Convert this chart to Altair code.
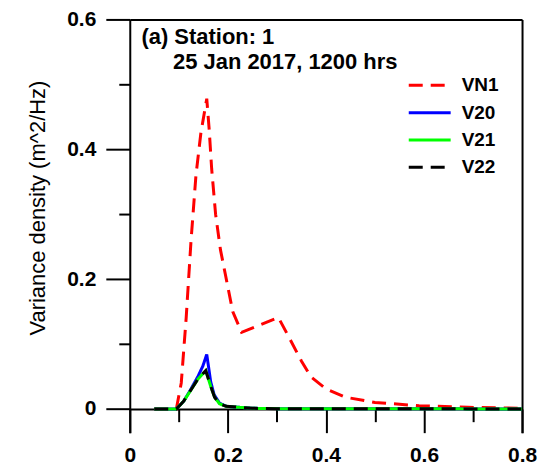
import altair as alt
import pandas as pd

series_names = ["VN1", "V20", "V21", "V22"]
series_colors = ["#FF0000", "#0000FF", "#00FF00", "#000000"]

vn1_f = [0.05, 0.095, 0.105, 0.115, 0.125, 0.135, 0.145, 0.157, 0.162, 0.167, 0.175, 0.185,
         0.195, 0.21, 0.228, 0.303, 0.325, 0.35, 0.37, 0.40, 0.44, 0.50, 0.59, 0.69, 0.80]
vn1_v = [0.0, 0.0, 0.04, 0.14, 0.26, 0.36, 0.425, 0.478, 0.43, 0.37, 0.30, 0.245,
         0.207, 0.15, 0.118, 0.141, 0.11, 0.074, 0.049, 0.031, 0.018, 0.010, 0.005, 0.0026, 0.001]

v20_f = [0.05, 0.095, 0.11, 0.122, 0.139, 0.149, 0.157, 0.165, 0.172, 0.183, 0.197, 0.25, 0.30, 0.80]
v20_v = [0.0, 0.0, 0.012, 0.027, 0.05, 0.066, 0.084, 0.042, 0.022, 0.009, 0.004, 0.001, 0.0005, 0.0]

v21_f = [0.05, 0.095, 0.11, 0.122, 0.139, 0.155, 0.165, 0.173, 0.183, 0.197, 0.25, 0.30, 0.80]
v21_v = [0.0, 0.0, 0.012, 0.026, 0.046, 0.059, 0.035, 0.018, 0.008, 0.004, 0.001, 0.0005, 0.0]

v22_f = [0.05, 0.095, 0.11, 0.122, 0.139, 0.155, 0.165, 0.173, 0.183, 0.197, 0.25, 0.30, 0.80]
v22_v = [0.0, 0.0, 0.012, 0.026, 0.046, 0.059, 0.035, 0.018, 0.008, 0.004, 0.001, 0.0005, 0.0]

x_major = [0, 0.2, 0.4, 0.6, 0.8]
x_minor = [0.1, 0.3, 0.5, 0.7]
y_major = [0, 0.2, 0.4, 0.6]
y_minor = [0.1, 0.3, 0.5]

title_line1 = "(a) Station: 1"
title_line2 = "25 Jan 2017, 1200 hrs"
y_title = "Variance density (m^2/Hz)"

rows = []
for name, fs, vs in [("VN1", vn1_f, vn1_v), ("V20", v20_f, v20_v),
                     ("V21", v21_f, v21_v), ("V22", v22_f, v22_v)]:
    for f, v in zip(fs, vs):
        rows.append({"f": f, "v": v, "series": name})
df = pd.DataFrame(rows)

FONT = "Liberation Sans"
xs = alt.Scale(domain=[0, 0.8], nice=False, zero=False)
ys = alt.Scale(domain=[-0.0365, 0.6], nice=False, zero=False)

lines = alt.Chart(df).mark_line(strokeWidth=3).encode(
    x=alt.X("f:Q", scale=xs, axis=alt.Axis(
        values=x_major, orient="bottom", offset=-23.7, tickSize=23.7, labelPadding=12,
        format="~g", title=None, labelFlush=False, labelOverlap=False)),
    y=alt.Y("v:Q", scale=ys, axis=alt.Axis(
        values=y_major, orient="left", tickSize=24, labelPadding=10, format="~g",
        title=y_title, titleFontSize=22, titleFontWeight="normal", titleFont=FONT,
        titleAngle=270, titleX=-92, titleY=188.5, titleAlign="center",
        titleBaseline="middle", labelFlush=False, labelOverlap=False)),
    color=alt.Color("series:N", scale=alt.Scale(domain=series_names, range=series_colors),
                    legend=alt.Legend(title=None)),
    strokeDash=alt.StrokeDash("series:N", scale=alt.Scale(
        domain=series_names, range=[[14, 8], [1, 0], [1, 0], [14, 8]]),
        legend=alt.Legend(title=None)),
)

minor = alt.Chart(df).mark_point(opacity=0).encode(
    x=alt.X("f:Q", scale=xs, axis=alt.Axis(
        values=x_minor, orient="bottom", offset=-23.7, tickSize=12.7, labels=False,
        domain=False, title=None)),
    y=alt.Y("v:Q", scale=ys, axis=alt.Axis(
        values=y_minor, orient="left", tickSize=11, labels=False, domain=False, title=None)),
)

frame = alt.Chart(df).mark_point(opacity=0).encode(
    x=alt.X("f:Q", scale=xs, axis=alt.Axis(
        orient="top", ticks=False, labels=False, domain=True, title=None)),
    y=alt.Y("v:Q", scale=ys, axis=alt.Axis(
        orient="right", ticks=False, labels=False, domain=True, title=None)),
)

t1 = alt.Chart(pd.DataFrame({"t": [title_line1]})).mark_text(
    align="left", baseline="alphabetic", font=FONT, fontSize=22, fontWeight="bold",
    color="black").encode(x=alt.value(11.7), y=alt.value(24.3), text="t:N")
t2 = alt.Chart(pd.DataFrame({"t": [title_line2]})).mark_text(
    align="left", baseline="alphabetic", font=FONT, fontSize=22, fontWeight="bold",
    color="black").encode(x=alt.value(43.3), y=alt.value(49.3), text="t:N")

chart = alt.layer(lines, minor, frame, t1, t2).resolve_axis(
    x="independent", y="independent"
).properties(
    width=393, height=414,
    padding={"left": 122, "top": 11, "right": 20, "bottom": 50},
    autosize=alt.AutoSizeParams(type="none"),
).configure_view(stroke=None).configure_axis(
    domainColor="black", tickColor="black", domainWidth=2, tickWidth=2,
    labelColor="black", labelFont=FONT, labelFontWeight="bold", labelFontSize=21,
    grid=False, titleColor="black",
).configure_legend(
    orient="none", legendX=288.5, legendY=54, padding=0,
    symbolType="M-2,0H2", symbolSize=441, symbolStrokeWidth=3,
    labelFont=FONT, labelFontSize=19, labelFontWeight="bold", labelColor="black",
    labelOffset=20, rowPadding=5.4,
)

chart.save("out.html", embed_options={"renderer": "svg", "actions": False})
